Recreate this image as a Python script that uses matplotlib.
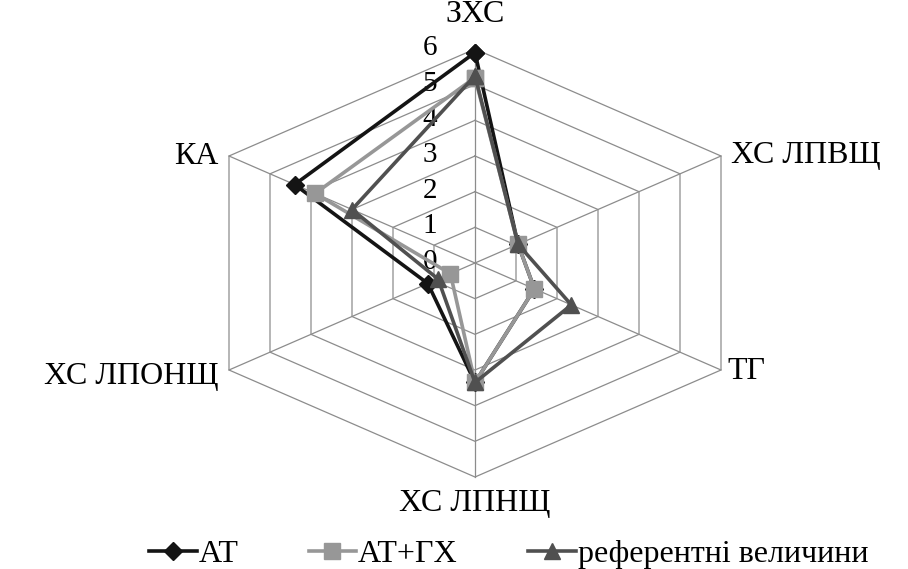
import matplotlib
matplotlib.use("Agg")
import matplotlib.pyplot as plt
import numpy as np

plt.rcParams['font.family'] = ['Liberation Serif', 'DejaVu Serif']

# axes of the radar, clockwise from the top
categories = ['ЗХС', 'ХС ЛПВЩ', 'ТГ', 'ХС ЛПНЩ', 'ХС ЛПОНЩ', 'КА']
rings = [0, 1, 2, 3, 4, 5, 6]

at = [5.9, 1.05, 1.45, 3.35, 1.15, 4.4]
at_gh = [5.2, 1.05, 1.45, 3.35, 0.6, 3.9]
ref = [5.25, 1.05, 2.35, 3.35, 0.9, 3.0]

series_names = ['АТ', 'АТ+ГХ', 'референтні величини']


def to_xy(vals):
    th = np.radians(np.arange(len(vals)) * 360.0 / len(vals))
    v = np.asarray(vals, dtype=float)
    x = v * np.sin(th)
    y = v * np.cos(th)
    # close the polygon
    return np.append(x, x[0]), np.append(y, y[0])


fig = plt.figure(figsize=(9.08, 5.69), dpi=100)
ax = fig.add_axes([229 / 908, 92 / 569, 492 / 908, 428 / 569])
rmax = rings[-1]
ax.set_xlim(-rmax * np.sin(np.pi / 3), rmax * np.sin(np.pi / 3))
ax.set_ylim(-rmax, rmax)
ax.axis('off')

grid_col = '#8c8c8c'
# hexagon rings
for r in rings[1:]:
    gx, gy = to_xy([r] * len(categories))
    ax.plot(gx, gy, color=grid_col, lw=0.9, zorder=1, clip_on=False)
# spokes
sx, sy = to_xy([rmax] * len(categories))
for i in range(len(categories)):
    ax.plot([0, sx[i]], [0, sy[i]], color=grid_col, lw=0.9, zorder=1, clip_on=False)

# ring value labels along the top spoke
for r in rings:
    ax.annotate(str(r), (0, r), xytext=(-45, 1), textcoords='offset pixels',
                ha='center', va='center', fontsize=21, zorder=2)

# category labels
offsets = [(0, 35, 'center'), (10, 0, 'left'), (6, -2, 'left'),
           (0, -27, 'center'), (-10, -6, 'right'), (-10, 0, 'right')]
for i, lab in enumerate(categories):
    dx, dy, ha = offsets[i]
    ax.annotate(lab, (sx[i], sy[i]), xytext=(dx, dy), textcoords='offset pixels',
                ha=ha, va='center', fontsize=23)

styles = [
    (at, '#141414', 'D', 9),
    (at_gh, '#979797', 's', 11),
    (ref, '#505050', '^', 12),
]
handles = []
for (vals, col, mk, ms), name in zip(styles, series_names):
    x, y = to_xy(vals)
    h, = ax.plot(x, y, color=col, lw=2.6, marker=mk, markersize=ms,
                 markeredgecolor=col, label=name, zorder=3, clip_on=False)
    handles.append(h)

fig.legend(handles=handles, loc='lower center', bbox_to_anchor=(0.56, -0.05),
           ncol=3, frameon=False, fontsize=23, handlelength=1.5,
           handletextpad=0.05, columnspacing=2.2)

fig.savefig('out.png', dpi=100)
